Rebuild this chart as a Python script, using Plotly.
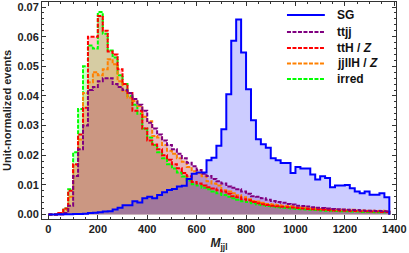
import plotly.graph_objects as go

bin_width = 20
edges = [i * bin_width for i in range(70)]  # 0 .. 1380

sg = [0.0000, 0.0000, 0.0001, 0.0001, 0.0001,
      0.0002, 0.0002, 0.0003, 0.0005, 0.0006,
      0.0008, 0.0010, 0.0011, 0.0017, 0.0023,
      0.0031, 0.0031, 0.0045, 0.0041, 0.0055,
      0.0060, 0.0055, 0.0066, 0.0075, 0.0083,
      0.0086, 0.0095, 0.0097, 0.0120, 0.0138,
      0.0142, 0.0142, 0.0183, 0.0192, 0.0232,
      0.0288, 0.0406, 0.0586, 0.0658, 0.0547,
      0.0423, 0.0318, 0.0254, 0.0237, 0.0225,
      0.0190, 0.0183, 0.0174, 0.0174, 0.0140,
      0.0160, 0.0155, 0.0155, 0.0135, 0.0118,
      0.0129, 0.0123, 0.0092, 0.0098, 0.0098,
      0.0100, 0.0089, 0.0078, 0.0072, 0.0078,
      0.0067, 0.0067, 0.0072, 0.0058]

ttjj = [0.0, 0.0, 0.0, 0.0005, 0.003,
        0.013, 0.022, 0.030, 0.042, 0.043,
        0.045, 0.046, 0.046, 0.044, 0.043,
        0.042, 0.041, 0.039, 0.037, 0.035,
        0.031, 0.029, 0.027, 0.025, 0.0235,
        0.022, 0.0205, 0.019, 0.0175, 0.0163,
        0.0150, 0.0138, 0.013, 0.012, 0.0112,
        0.0105, 0.0095, 0.009, 0.0085, 0.0078,
        0.007, 0.0062, 0.006, 0.0055, 0.005,
        0.0046, 0.0042, 0.004, 0.0036, 0.0034,
        0.003, 0.0029, 0.0027, 0.0025, 0.0023,
        0.0022, 0.002, 0.0019, 0.0018, 0.0017,
        0.0016, 0.0015, 0.0015, 0.0014, 0.0013,
        0.0013, 0.0012, 0.0012, 0.0011]

tthz = [0.0, 0.0, 0.0005, 0.002, 0.008,
        0.017, 0.027, 0.036, 0.060, 0.060,
        0.067, 0.062, 0.055, 0.054, 0.049,
        0.044, 0.041, 0.035, 0.035, 0.029,
        0.025, 0.0236, 0.022, 0.020, 0.0185,
        0.017, 0.0156, 0.014, 0.0129, 0.011,
        0.0105, 0.0098, 0.0092, 0.0088, 0.0082,
        0.0078, 0.007, 0.0062, 0.0058, 0.0052,
        0.0048, 0.0042, 0.0038, 0.0035, 0.0032,
        0.003, 0.0028, 0.0026, 0.0025, 0.0024,
        0.0022, 0.002, 0.0019, 0.0018, 0.0017,
        0.0016, 0.0015, 0.0014, 0.0014, 0.0013,
        0.0013, 0.0012, 0.0012, 0.0011, 0.0011,
        0.001, 0.001, 0.0009, 0.0009]

jjllhz = [0.0, 0.0, 0.0003, 0.0015, 0.006,
          0.0167, 0.0253, 0.041, 0.0446, 0.048,
          0.047, 0.049, 0.0524, 0.0507, 0.045,
          0.0417, 0.0394, 0.0383, 0.0366, 0.033,
          0.0315, 0.0265, 0.026, 0.0235, 0.0215,
          0.0205, 0.019, 0.0178, 0.016, 0.0146,
          0.014, 0.0129, 0.0112, 0.0105, 0.0098,
          0.0082, 0.0078, 0.0072, 0.0065, 0.0058,
          0.0052, 0.0046, 0.0044, 0.004, 0.0036,
          0.0034, 0.0032, 0.003, 0.0029, 0.0028,
          0.0025, 0.0023, 0.0024, 0.0021, 0.002,
          0.0019, 0.0018, 0.0018, 0.0016, 0.0016,
          0.0015, 0.0016, 0.0014, 0.0014, 0.0013,
          0.0013, 0.0012, 0.0013, 0.0012]

irred = [0.0, 0.0, 0.0003, 0.002, 0.0085,
         0.021, 0.0356, 0.050, 0.057, 0.056,
         0.0683, 0.061, 0.0553, 0.053, 0.047,
         0.044, 0.040, 0.037, 0.034, 0.029,
         0.026, 0.0235, 0.021, 0.019, 0.017,
         0.0155, 0.0142, 0.0128, 0.0115, 0.0102,
         0.0098, 0.009, 0.0085, 0.0078, 0.0072,
         0.0066, 0.006, 0.0055, 0.005, 0.0045,
         0.0042, 0.0038, 0.0034, 0.0031, 0.0029,
         0.0027, 0.0025, 0.0023, 0.0022, 0.002,
         0.0019, 0.0018, 0.0017, 0.0016, 0.0015,
         0.0014, 0.0013, 0.0013, 0.0012, 0.0011,
         0.0011, 0.001, 0.001, 0.0009, 0.0009,
         0.0009, 0.0008, 0.0008, 0.0008]

names = ["SG", "ttjj", "ttH / <i>Z</i>", "jjllH / <i>Z</i>", "irred"]
series = [sg, ttjj, tthz, jjllhz, irred]
line_colors = ["rgb(0,0,255)", "rgb(128,0,128)", "rgb(255,0,0)", "rgb(255,128,0)", "rgb(0,255,0)"]
fill_colors = ["rgba(0,0,255,0.2)", "rgba(128,0,128,0.2)", "rgba(255,0,0,0.2)",
               "rgba(255,128,0,0.2)", "rgba(0,255,0,0.2)"]
dashes = ["solid", "4px,1.5px", "4px,1.5px", "4px,1.5px", "4px,1.5px"]


def step_xy(vals):
    xs = [edges[0]] + edges[:-1] + [edges[-1], edges[-1]]
    ys = [0.0] + list(vals) + [vals[-1], 0.0]
    return xs, ys


fig = go.Figure()

# fills (drawn in this order: irred, ttH/Z, jjllH/Z, ttjj, SG)
for idx in [4, 2, 3, 1, 0]:
    xs, ys = step_xy(series[idx])
    fig.add_trace(go.Scatter(x=xs, y=ys, mode="lines", line=dict(width=0, shape="hv"),
                             fill="tozeroy", fillcolor=fill_colors[idx],
                             showlegend=False, hoverinfo="skip"))

# outlines
for idx in [4, 3, 2, 1, 0]:
    xs, ys = step_xy(series[idx])
    fig.add_trace(go.Scatter(x=xs, y=ys, mode="lines", showlegend=False,
                             line=dict(color=line_colors[idx], width=2, shape="hv", dash=dashes[idx])))

# legend drawn manually (sample line + label) in paper coordinates
legend_rows_y = [0.940, 0.862, 0.788, 0.717, 0.645]
for i in range(5):
    fig.add_shape(type="line", xref="paper", yref="paper",
                  x0=0.692, x1=0.799, y0=legend_rows_y[i], y1=legend_rows_y[i],
                  line=dict(color=line_colors[i], width=2, dash=dashes[i]))
    fig.add_annotation(xref="paper", yref="paper", x=0.828, y=legend_rows_y[i],
                       xanchor="left", yanchor="middle", showarrow=False,
                       text="<b>" + names[i] + "</b>",
                       font=dict(family="Liberation Sans", size=12, color="#111"))

axis_common = dict(showline=True, linecolor="#333", linewidth=1, mirror="allticks",
                   ticks="inside", tickcolor="#333", showgrid=False, zeroline=False,
                   automargin=False, ticklabeloverflow="allow",
                   tickfont=dict(family="Liberation Sans", size=11, color="#222", weight="bold"))

fig.update_layout(
    width=409, height=253,
    margin=dict(l=42, r=13, t=2, b=34),
    paper_bgcolor="white", plot_bgcolor="white",
    font=dict(family="Liberation Sans", color="#222"),
    showlegend=False,
    xaxis=dict(range=[-26, 1407], dtick=200, tick0=0, ticklen=4,
               minor=dict(dtick=50, ticks="inside", ticklen=2, tickcolor="#333"),
               title=dict(text="<b><i>M</i><sub>jjl</sub></b>", standoff=4,
                          font=dict(size=12, family="Liberation Sans")),
               **axis_common),
    yaxis=dict(range=[-0.0015, 0.0717], dtick=0.01, tick0=0, tickformat=".2f", ticklen=4,
               minor=dict(dtick=0.002, ticks="inside", ticklen=2, tickcolor="#333"),
               title=dict(text="<b>Unit-normalized events</b>", standoff=3,
                          font=dict(size=11, family="Liberation Sans")),
               **axis_common),
)

fig.write_html("out.html", config={"displayModeBar": False},
               post_script="document.body.style.margin='0';document.body.style.overflow='hidden';")
